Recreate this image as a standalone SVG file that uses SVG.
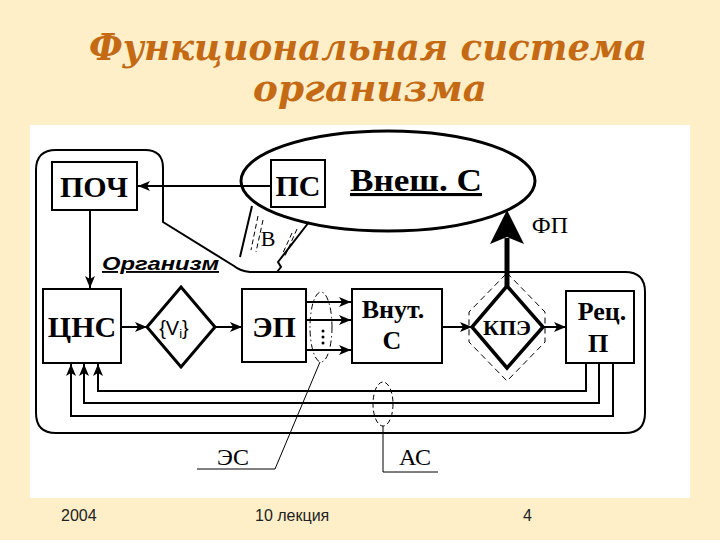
<svg xmlns="http://www.w3.org/2000/svg" width="720" height="540" viewBox="0 0 720 540">
<style>
.box{fill:#fff;stroke:#000;stroke-width:2}
.ln{fill:none;stroke:#000;stroke-width:2}
.thin{fill:none;stroke:#000;stroke-width:1}
.bt{font-family:"Liberation Serif","Times New Roman",serif;font-weight:bold;fill:#000;text-anchor:middle}
.rt{font-family:"Liberation Serif","Times New Roman",serif;fill:#000;text-anchor:middle}
.title{font-family:"DejaVu Serif","Liberation Serif",serif;font-weight:bold;font-style:italic;fill:#C46A14;text-anchor:middle;font-size:37px}
.foot{font-family:"Liberation Sans",Arial,sans-serif;font-size:16px;fill:#222}
</style>
<defs>
<marker id="ar" markerUnits="userSpaceOnUse" markerWidth="13" markerHeight="10" refX="12" refY="5" orient="auto">
<path d="M0,0 L12,5 L0,10 L3,5 z" fill="#000"/>
</marker>
</defs>
<rect x="0" y="0" width="720" height="540" fill="#FEEFC9"/>
<text class="title" x="368" y="60" textLength="558" lengthAdjust="spacingAndGlyphs">Функциональная система</text>
<text class="title" x="370" y="101" textLength="234" lengthAdjust="spacingAndGlyphs">организма</text>
<rect x="30" y="125" width="660" height="373" fill="#fff"/>

<g id="organism">
<path class="ln" stroke-width="2.5" d="M163,222 L163,168 Q163,150 145,150 L56,150 Q36,150 36,170 L36,413 Q36,433 56,433 L625,433 Q645,433 645,413 L645,292 Q645,272 625,272 L250,272 Q240,271 234,266 Z" fill="none"/>
<text x="102" y="270" font-family="'Liberation Sans',Arial,sans-serif" font-weight="bold" font-style="italic" font-size="19" text-decoration="underline" textLength="117" lengthAdjust="spacingAndGlyphs">Организм</text>
</g>

<g id="vnesh">
<ellipse cx="388" cy="181" rx="147" ry="50" fill="#fff" stroke="#000" stroke-width="3"/>
<text class="bt" x="416" y="191" font-size="31" text-decoration="underline" textLength="132" lengthAdjust="spacingAndGlyphs">Внеш. С</text>
</g>

<g id="ps">
<rect class="box" x="271" y="160" width="54" height="47"/>
<text class="bt" x="298" y="196" font-size="30">ПС</text>
</g>

<g id="v">
<path class="ln" d="M252,206 L240,257 M309,222 L278,262 L281,267 L277,272"/>
<path class="thin" stroke-dasharray="5,3" d="M258,216 L251,250 M263,220 L256,252 M297,229 L285,256 M292,233 L282,255"/>
<text class="rt" x="268" y="246" font-size="22">В</text>
</g>

<g id="poch">
<rect class="box" x="52" y="162" width="85" height="48"/>
<text class="bt" x="94" y="197" font-size="30">ПОЧ</text>
</g>

<g id="cns">
<rect class="box" x="43" y="289" width="78" height="74"/>
<text class="bt" x="82" y="337" font-size="30">ЦНС</text>
</g>

<g id="vi">
<polygon points="181,287 215,327 181,367 147,327" fill="#fff" stroke="#000" stroke-width="3"/>
<text x="174" y="335" font-family="'Liberation Sans',Arial,sans-serif" font-size="20" text-anchor="middle">{V<tspan font-size="13" dy="3">i</tspan><tspan dy="-3">}</tspan></text>
</g>

<g id="ep">
<rect class="box" x="242" y="289" width="64" height="73"/>
<text class="bt" x="274" y="337" font-size="30">ЭП</text>
</g>

<g id="vnut">
<rect class="box" x="352" y="289" width="90" height="74"/>
<text class="bt" x="393" y="318" font-size="26">Внут.</text>
<text class="bt" x="392" y="349" font-size="26">С</text>
</g>

<g id="kpe">
<polygon points="507,273 545,312 545,342 507,381 469,342 469,312" fill="none" stroke="#000" stroke-width="1" stroke-dasharray="6,4"/>
<polygon points="507,286 543,327 507,368 472,327" fill="#fff" stroke="#000" stroke-width="3.5"/>
<text class="bt" x="507" y="335" font-size="22">КПЭ</text>
</g>

<g id="rec">
<rect class="box" x="566" y="291" width="68" height="72"/>
<text class="bt" x="602" y="320" font-size="26">Рец.</text>
<text class="bt" x="598" y="352" font-size="26">П</text>
</g>

<g id="connectors">
<line class="ln" x1="271" y1="186" x2="138" y2="186" marker-end="url(#ar)"/>
<line class="ln" x1="90" y1="210" x2="90" y2="288" marker-end="url(#ar)"/>
<line class="ln" x1="121" y1="327" x2="147" y2="327" marker-end="url(#ar)"/>
<line class="ln" x1="215" y1="327" x2="242" y2="327" marker-end="url(#ar)"/>
<line class="ln" x1="306" y1="302" x2="351" y2="302" marker-end="url(#ar)"/>
<line class="ln" x1="306" y1="320" x2="351" y2="320" marker-end="url(#ar)"/>
<line class="ln" x1="306" y1="350" x2="351" y2="350" marker-end="url(#ar)"/>
<circle cx="323" cy="331" r="1.5"/><circle cx="323" cy="337" r="1.5"/><circle cx="323" cy="343" r="1.5"/>
<line class="ln" x1="442" y1="327" x2="472" y2="327" marker-end="url(#ar)"/>
<line class="ln" x1="543" y1="327" x2="566" y2="327" marker-end="url(#ar)"/>
<line x1="507" y1="286" x2="507" y2="238" stroke="#000" stroke-width="5"/>
<polygon points="507,210 524,244 507,237 490,244" fill="#000"/>
<text class="rt" x="550" y="233" font-size="24">ФП</text>
<polyline class="ln" points="586,363 586,391 98,391 98,364" marker-end="url(#ar)"/>
<polyline class="ln" points="599,363 599,403 84,403 84,364" marker-end="url(#ar)"/>
<polyline class="ln" points="613,363 613,416 71,416 71,364" marker-end="url(#ar)"/>
<ellipse cx="321" cy="327" rx="11" ry="35" fill="none" stroke="#000" stroke-width="1" stroke-dasharray="6,3,1.5,3"/>
<polyline class="thin" points="320,362 275,469 197,469"/>
<text class="rt" x="233" y="465" font-size="24">ЭС</text>
<ellipse cx="383" cy="404" rx="10" ry="22" fill="none" stroke="#000" stroke-width="1" stroke-dasharray="5,3"/>
<polyline class="thin" points="383,426 383,472 438,472"/>
<text class="rt" x="415" y="465" font-size="24">АС</text>
</g>

<text class="foot" x="61" y="521">2004</text>
<text class="foot" x="255" y="521">10 лекция</text>
<text class="foot" x="523" y="521">4</text>
</svg>
